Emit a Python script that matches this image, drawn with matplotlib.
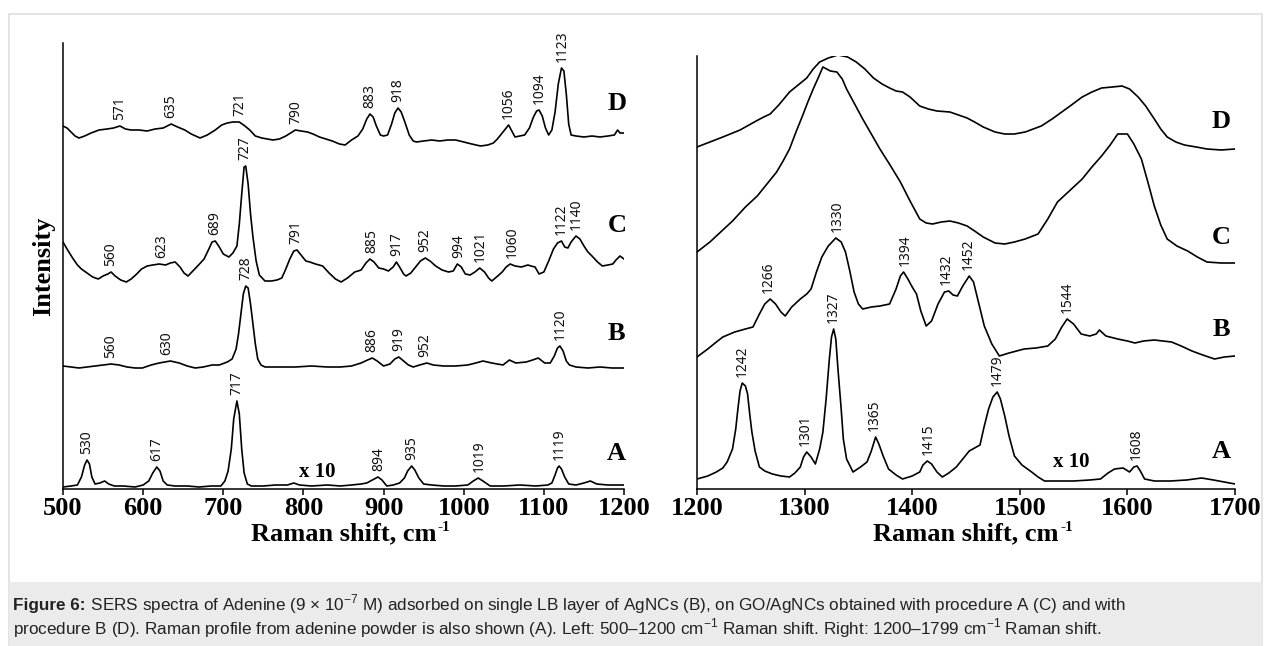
import numpy as np
import matplotlib.pyplot as plt
from matplotlib.patches import Rectangle

plt.rcParams['font.family'] = ['Liberation Serif', 'DejaVu Serif']
plt.rcParams['mathtext.fontset'] = 'custom'
plt.rcParams['mathtext.rm'] = 'Liberation Sans'
plt.rcParams['mathtext.bf'] = 'Liberation Sans:bold'

# spectra: (Raman shift cm-1, stacked intensity a.u.)
left_D = np.array([
    (500, 363), (505, 361), (510, 357), (515, 353), (520, 351), (527, 353), (535, 356), (545, 359),
    (555, 360), (563, 361), (571, 363), (578, 360), (585, 359), (595, 359), (605, 358), (615, 360),
    (625, 361), (635, 365), (643, 362), (652, 359), (660, 355), (671, 351), (680, 354), (690, 359),
    (698, 364), (705, 366), (712, 367), (720, 367), (727, 363), (733, 359), (740, 353), (748, 351),
    (755, 350), (762, 349), (770, 350), (778, 353), (784, 356), (790, 359), (797, 358), (805, 357),
    (812, 355), (820, 352), (828, 350), (836, 348), (845, 345), (852, 344), (860, 349), (868, 353),
    (874, 360), (879, 370), (883, 375), (887, 372), (891, 363), (896, 354), (900, 353), (905, 354),
    (910, 365), (914, 376), (918, 381), (922, 377), (927, 366), (932, 354), (937, 348), (941, 347),
    (950, 348), (960, 349), (970, 348), (980, 349), (990, 349), (1000, 347), (1010, 345), (1021, 343),
    (1030, 344), (1037, 346), (1042, 350), (1048, 356), (1052, 360), (1056, 364), (1060, 358),
    (1064, 352), (1070, 353), (1076, 354), (1082, 361), (1087, 372), (1091, 378), (1094, 379),
    (1098, 373), (1102, 361), (1106, 354), (1110, 359), (1114, 377), (1118, 405), (1122, 421),
    (1125, 418), (1128, 395), (1131, 365), (1134, 354), (1140, 353), (1150, 352), (1160, 353),
    (1170, 352), (1180, 353), (1188, 354), (1192, 359), (1195, 356), (1200, 356)])

left_C = np.array([
    (500, 247), (505, 240), (512, 231), (518, 224), (523, 220), (530, 216), (537, 212), (544, 210),
    (550, 213), (556, 215), (560, 217), (565, 213), (572, 209), (579, 207), (585, 210), (592, 215),
    (598, 220), (605, 223), (612, 224), (620, 225), (628, 224), (634, 226), (640, 227), (646, 222),
    (651, 216), (656, 213), (662, 218), (668, 223), (676, 230), (682, 240), (686, 247), (690, 248),
    (695, 242), (700, 235), (707, 232), (712, 236), (717, 243), (720, 265), (723, 295), (726, 322),
    (728, 323), (731, 305), (734, 275), (737, 252), (741, 228), (745, 214), (752, 208), (760, 208),
    (767, 209), (773, 211), (778, 220), (783, 230), (788, 238), (792, 239), (797, 234), (803, 228),
    (808, 227), (815, 225), (824, 223), (832, 216), (840, 210), (847, 207), (855, 211), (864, 217),
    (872, 219), (878, 226), (883, 230), (888, 227), (894, 221), (900, 220), (906, 218), (912, 222),
    (916, 227), (920, 222), (925, 215), (928, 213), (934, 216), (940, 222), (946, 228), (952, 231),
    (958, 228), (965, 223), (973, 219), (981, 217), (987, 218), (992, 225), (997, 222), (1002, 215),
    (1008, 214), (1014, 217), (1020, 221), (1026, 217), (1031, 211), (1035, 208), (1041, 212),
    (1048, 217), (1053, 222), (1058, 225), (1064, 223), (1072, 222), (1080, 224), (1084, 223),
    (1089, 222), (1094, 215), (1100, 217), (1106, 228), (1112, 240), (1117, 246), (1122, 248),
    (1126, 242), (1130, 241), (1134, 247), (1140, 253), (1145, 250), (1150, 243), (1155, 237),
    (1160, 233), (1167, 227), (1173, 223), (1180, 224), (1186, 225), (1190, 229), (1195, 233),
    (1200, 230)])

left_B = np.array([
    (500, 123), (510, 122), (520, 121), (530, 122), (540, 123), (550, 124), (560, 125), (570, 124),
    (580, 122), (590, 121), (599, 121), (610, 124), (620, 126), (634, 128), (645, 126), (655, 123),
    (665, 121), (675, 122), (686, 124), (695, 124), (705, 127), (711, 130), (716, 140), (719, 155),
    (722, 175), (725, 195), (728, 203), (731, 201), (734, 185), (737, 165), (740, 145), (743, 130),
    (747, 124), (752, 122), (770, 122), (790, 122), (810, 123), (830, 122), (846, 122), (860, 123),
    (872, 126), (880, 129), (886, 131), (892, 128), (900, 123), (908, 125), (914, 130), (919, 132),
    (925, 128), (931, 124), (937, 122), (945, 124), (954, 126), (962, 124), (975, 123), (990, 123),
    (1005, 124), (1015, 126), (1024, 128), (1035, 126), (1049, 124), (1057, 129), (1065, 126),
    (1078, 127), (1086, 129), (1093, 131), (1101, 126), (1108, 126), (1113, 133), (1117, 141),
    (1120, 143), (1124, 138), (1128, 128), (1132, 124), (1140, 122), (1155, 121), (1170, 122),
    (1185, 121), (1200, 121)])

left_A = np.array([
    (500, 2), (510, 3), (518, 4), (523, 12), (527, 24), (530, 29), (533, 25), (536, 12), (540, 5),
    (546, 6), (552, 8), (557, 5), (564, 3), (575, 3), (590, 2), (600, 4), (607, 8), (612, 16),
    (617, 22), (621, 18), (625, 8), (630, 4), (640, 3), (655, 3), (670, 2), (685, 3), (697, 3),
    (702, 8), (706, 18), (710, 40), (713, 70), (717, 88), (720, 75), (723, 40), (726, 16), (730, 5),
    (735, 3), (750, 3), (765, 4), (780, 4), (788, 6), (795, 4), (810, 3), (830, 4), (846, 3),
    (860, 4), (872, 5), (879, 6), (886, 9), (893, 12), (898, 9), (904, 3), (912, 4), (920, 6),
    (926, 11), (930, 18), (935, 23), (939, 19), (944, 11), (950, 5), (960, 4), (975, 3), (990, 3),
    (1005, 4), (1012, 8), (1018, 11), (1024, 8), (1033, 3), (1050, 3), (1070, 4), (1090, 3),
    (1105, 4), (1110, 6), (1114, 14), (1117, 21), (1119, 23), (1122, 20), (1126, 12), (1131, 5),
    (1140, 4), (1150, 6), (1158, 8), (1166, 5), (1180, 4), (1200, 4)])

right_D = np.array([
    (1200, 342), (1212, 347), (1224, 352), (1240, 359), (1255, 368), (1262, 372), (1268, 375),
    (1276, 384), (1286, 397), (1294, 404), (1302, 411), (1308, 420), (1314, 427), (1322, 431),
    (1331, 434), (1340, 432), (1348, 427), (1356, 420), (1364, 411), (1372, 405), (1379, 401),
    (1385, 398), (1391, 397), (1398, 392), (1407, 383), (1415, 380), (1423, 378), (1435, 377),
    (1443, 374), (1451, 371), (1458, 367), (1466, 362), (1477, 357), (1486, 355), (1495, 355),
    (1505, 357), (1520, 363), (1530, 370), (1539, 377), (1548, 384), (1558, 392), (1567, 397),
    (1576, 401), (1586, 402), (1595, 403), (1602, 400), (1610, 392), (1617, 383), (1625, 370),
    (1631, 360), (1637, 352), (1645, 347), (1653, 344), (1664, 342), (1674, 340), (1687, 339),
    (1700, 340)])

right_C = np.array([
    (1200, 237), (1212, 247), (1222, 257), (1233, 268), (1245, 282), (1256, 293), (1265, 305),
    (1274, 317), (1280, 328), (1286, 340), (1292, 357), (1298, 373), (1303, 387), (1308, 400),
    (1313, 412), (1317, 422), (1324, 418), (1330, 417), (1335, 410), (1339, 400), (1346, 386),
    (1354, 370), (1362, 355), (1370, 340), (1380, 323), (1389, 307), (1398, 288), (1407, 270),
    (1413, 266), (1419, 265), (1427, 267), (1435, 268), (1443, 266), (1451, 263), (1458, 258),
    (1466, 252), (1477, 246), (1486, 245), (1495, 247), (1505, 250), (1517, 255), (1526, 270),
    (1535, 287), (1546, 298), (1558, 310), (1567, 322), (1576, 333), (1584, 344), (1591, 355),
    (1600, 355), (1606, 345), (1613, 330), (1619, 307), (1625, 283), (1631, 264), (1637, 250),
    (1646, 243), (1656, 238), (1665, 232), (1674, 227), (1687, 226), (1700, 226)])

right_B = np.array([
    (1200, 132), (1210, 140), (1218, 147), (1224, 152), (1235, 157), (1245, 160), (1252, 162),
    (1258, 175), (1263, 185), (1268, 190), (1273, 185), (1278, 177), (1282, 173), (1288, 182),
    (1296, 190), (1302, 195), (1306, 200), (1311, 217), (1316, 232), (1322, 243), (1329, 251),
    (1334, 247), (1338, 237), (1342, 218), (1346, 197), (1350, 185), (1354, 180), (1362, 182),
    (1370, 183), (1379, 185), (1385, 200), (1389, 213), (1392, 217), (1396, 210), (1400, 202),
    (1404, 195), (1408, 178), (1413, 163), (1418, 168), (1424, 185), (1430, 197), (1434, 198),
    (1438, 194), (1442, 193), (1447, 203), (1453, 213), (1457, 207), (1462, 185), (1467, 163),
    (1474, 145), (1481, 133), (1490, 136), (1504, 140), (1515, 141), (1526, 143), (1533, 150),
    (1539, 162), (1544, 170), (1550, 165), (1557, 155), (1565, 153), (1571, 155), (1574, 159),
    (1580, 153), (1591, 150), (1600, 148), (1607, 146), (1615, 148), (1625, 149), (1633, 148),
    (1641, 147), (1650, 143), (1660, 138), (1670, 134), (1681, 130), (1690, 132), (1700, 133)])

right_A = np.array([
    (1200, 10), (1210, 13), (1218, 17), (1224, 21), (1228, 27), (1233, 40), (1236, 60), (1238, 80),
    (1240, 98), (1242, 106), (1245, 103), (1247, 95), (1249, 75), (1251, 57), (1254, 38), (1258, 22),
    (1263, 18), (1270, 15), (1278, 13), (1286, 12), (1291, 16), (1296, 22), (1299, 32), (1302, 37),
    (1306, 32), (1310, 25), (1314, 40), (1317, 57), (1320, 90), (1323, 130), (1325, 152), (1327, 160),
    (1329, 150), (1331, 120), (1334, 80), (1336, 50), (1339, 30), (1345, 17), (1352, 22), (1358, 27),
    (1362, 38), (1366, 52), (1369, 45), (1373, 33), (1378, 20), (1385, 14), (1391, 10), (1400, 13),
    (1407, 17), (1410, 24), (1414, 28), (1418, 25), (1423, 17), (1428, 12), (1434, 16), (1441, 22),
    (1447, 30), (1453, 38), (1458, 41), (1463, 44), (1467, 63), (1471, 80), (1475, 92), (1479, 97),
    (1482, 90), (1486, 73), (1490, 53), (1495, 33), (1502, 24), (1511, 17), (1517, 12), (1523, 8),
    (1535, 8), (1550, 8), (1565, 9), (1575, 10), (1582, 16), (1588, 20), (1596, 21), (1602, 17),
    (1606, 22), (1609, 23), (1612, 18), (1616, 10), (1625, 8), (1640, 8), (1655, 9), (1669, 11),
    (1680, 9), (1690, 7), (1700, 5)])

# peak labels
peaks_left_D = [571, 635, 721, 790, 883, 918, 1056, 1094, 1123]
peaks_left_C = [560, 623, 689, 727, 791, 885, 917, 952, 994, 1021, 1060, 1122, 1140]
peaks_left_B = [560, 630, 728, 886, 919, 952, 1120]
peaks_left_A = [530, 617, 717, 894, 935, 1019, 1119]
peaks_right_B = [1266, 1330, 1394, 1432, 1452, 1544]
peaks_right_A = [1242, 1301, 1327, 1365, 1415, 1479, 1608]

left_ticks = [500, 600, 700, 800, 900, 1000, 1100, 1200]
right_ticks = [1200, 1300, 1400, 1500, 1600, 1700]

caption_bold = "Figure 6:"
caption1 = (r" SERS spectra of Adenine (9 × 10$^{-7}$ M) adsorbed on single LB layer "
            r"of AgNCs (B), on GO/AgNCs obtained with procedure A (C) and with")
caption2 = (r"procedure B (D). Raman profile from adenine powder is also shown (A). Left: 500–1200 cm$^{-1}$ "
            r"Raman shift. Right: 1200–1799 cm$^{-1}$ Raman shift.")

W, H = 1270, 646
fig = plt.figure(figsize=(W / 100, H / 100), dpi=100)

# frame and caption box
fig.patches.append(Rectangle((9 / W, 0), 1253 / W, 632 / H, transform=fig.transFigure,
                             facecolor='none', edgecolor='#dedede', lw=1.2))
fig.patches.append(Rectangle((9 / W, 0), 1253 / W, 64 / H, transform=fig.transFigure,
                             facecolor='#ebebeb', edgecolor='none'))

axL = fig.add_axes([63 / W, 157 / H, 561 / W, 446 / H])
axR = fig.add_axes([697 / W, 157 / H, 538 / W, 433 / H])


def draw(ax, spec, peaks):
    x, y = spec[:, 0], spec[:, 1]
    ax.plot(x, y, color='black', lw=1.2, solid_joinstyle='round')
    for p in peaks:
        m = (x >= p - 5) & (x <= p + 5)
        top = y[m].max() if m.any() else np.interp(p, x, y)
        ax.annotate(str(p), xy=(p, top), xytext=(0, 4), textcoords='offset points',
                    rotation=90, ha='center', va='bottom', fontsize=10,
                    family='Noto Sans', color='#111111')


draw(axL, left_D, peaks_left_D)
draw(axL, left_C, peaks_left_C)
draw(axL, left_B, peaks_left_B)
draw(axL, left_A, peaks_left_A)
draw(axR, right_D, [])
draw(axR, right_C, [])
draw(axR, right_B, peaks_right_B)
draw(axR, right_A, peaks_right_A)

for ax, lim, ticks, ytop in [(axL, (500, 1200), left_ticks, 446), (axR, (1200, 1700), right_ticks, 433)]:
    ax.set_xlim(*lim)
    ax.set_ylim(0, ytop)
    ax.set_xticks(ticks)
    ax.set_yticks([])
    ax.patch.set_alpha(0)
    for s in ['top', 'right']:
        ax.spines[s].set_visible(False)
    for s in ['left', 'bottom']:
        ax.spines[s].set_linewidth(1.1)
    ax.tick_params(axis='x', direction='out', length=4, width=1.1, pad=1.5)
    for lab in ax.get_xticklabels():
        lab.set_fontsize(19)
        lab.set_fontweight('bold')
    ax.set_xlabel('Raman shift, cm', fontsize=19, fontweight='bold', labelpad=2)

axL.set_ylabel('Intensity', fontsize=19, fontweight='bold', labelpad=6)

# curve letters
for ax, xs, pos in [(axL, 1191, [('D', 385), ('C', 263), ('B', 155), ('A', 35)]),
                    (axR, 1687, [('D', 368), ('C', 252), ('B', 160), ('A', 37)])]:
    for letter, yy in pos:
        ax.text(xs, yy, letter, fontsize=19, fontweight='bold', ha='center', va='center')

axL.text(817, 17, 'x 10', fontsize=15, fontweight='bold', ha='center', va='center')
axR.text(1548, 27, 'x 10', fontsize=15, fontweight='bold', ha='center', va='center')

cap_kw = dict(fontsize=12.3, family='Liberation Sans', math_fontfamily='custom',
              va='baseline', color='#222222')
tb = fig.text(13 / W, 1 - 610 / H, caption_bold, fontweight='bold', **cap_kw)
fig.text(13 / W, 1 - 634 / H, caption2, **cap_kw)

# place pieces that depend on rendered text sizes
fig.canvas.draw()
r = fig.canvas.get_renderer()
bb = tb.get_window_extent(r)
fig.text(bb.x1 / W, 1 - 610 / H, caption1, **cap_kw)
for ax in (axL, axR):
    lb = ax.xaxis.label.get_window_extent(r)
    fig.text(lb.x1 / W + 0.001, (lb.y1 + 1) / H, '-1', fontsize=11, fontweight='bold',
             ha='left', va='top')

fig.savefig('out.png', dpi=100)
